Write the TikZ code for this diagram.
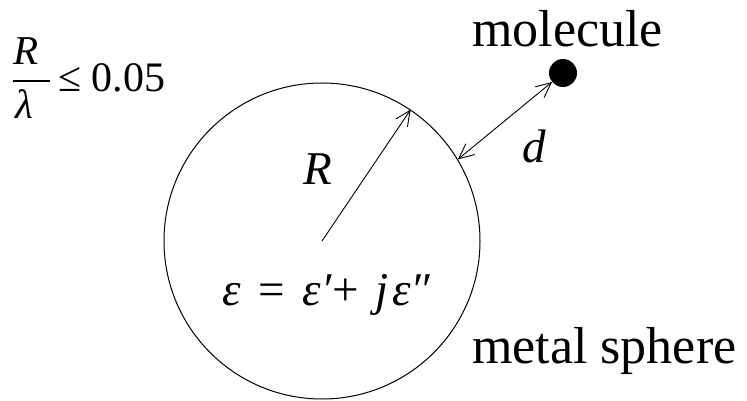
\documentclass[tikz,border=0pt]{standalone}
\usepackage{fontspec}
\setmainfont{Liberation Serif}
\usetikzlibrary{arrows.meta}
\begin{document}
\begin{tikzpicture}[x=1pt,y=-1pt,
  lbl/.style={inner sep=0pt, anchor=base west},
  big/.style={font=\fontsize{52}{60}\selectfont},
  mth/.style={font=\fontsize{47}{56}\selectfont\itshape},
  frc/.style={font=\fontsize{42}{50}\selectfont},
  barb/.style={-{Straight Barb[length=15pt,width=14pt]}, line width=0.9pt},
  dbarb/.style={{Straight Barb[length=15pt,width=14pt]}-{Straight Barb[length=15pt,width=14pt]}, line width=0.9pt}
]
\useasboundingbox (0,0) rectangle (747,401);
\node[draw, circle, minimum size=316pt, line width=1pt, inner sep=0pt] (sph) at (322,241) {};
\coordinate (ctr) at (322,241);
\node[circle, fill=black, minimum size=28pt, inner sep=0pt] (mol) at (563,73) {};
\draw[barb] (ctr) -- (sph.56.6);
\draw[dbarb] (mol) -- (sph.31.9);
\node[lbl, big] (molT) at (472,47) {molecule};
\node[lbl, big] (metT) at (472,363) {metal sphere};
\node[lbl, mth] (Rl) at (303,185) {R};
\node[lbl, mth] (dl) at (522,162) {d};
\node[lbl, mth] (eps) at (222,305) {ε\hspace{0.38em}\textup{=}\hspace{0.38em}ε′\textup{+}\hspace{0.35em}j\hspace{0.08em}ε″};
\node[lbl, frc, font=\fontsize{41}{48}\selectfont\itshape] (fnum) at (13,65) {R};
\node[lbl, frc, font=\fontsize{41}{48}\selectfont\itshape] (fden) at (15,119) {λ};
\coordinate (barL) at (13,81);
\coordinate (barR) at (50,81);
\draw[line width=1.6pt] (barL) -- (barR);
\node[lbl, frc] (le) at (58,92) {≤ 0.05};
\end{tikzpicture}
\end{document}
